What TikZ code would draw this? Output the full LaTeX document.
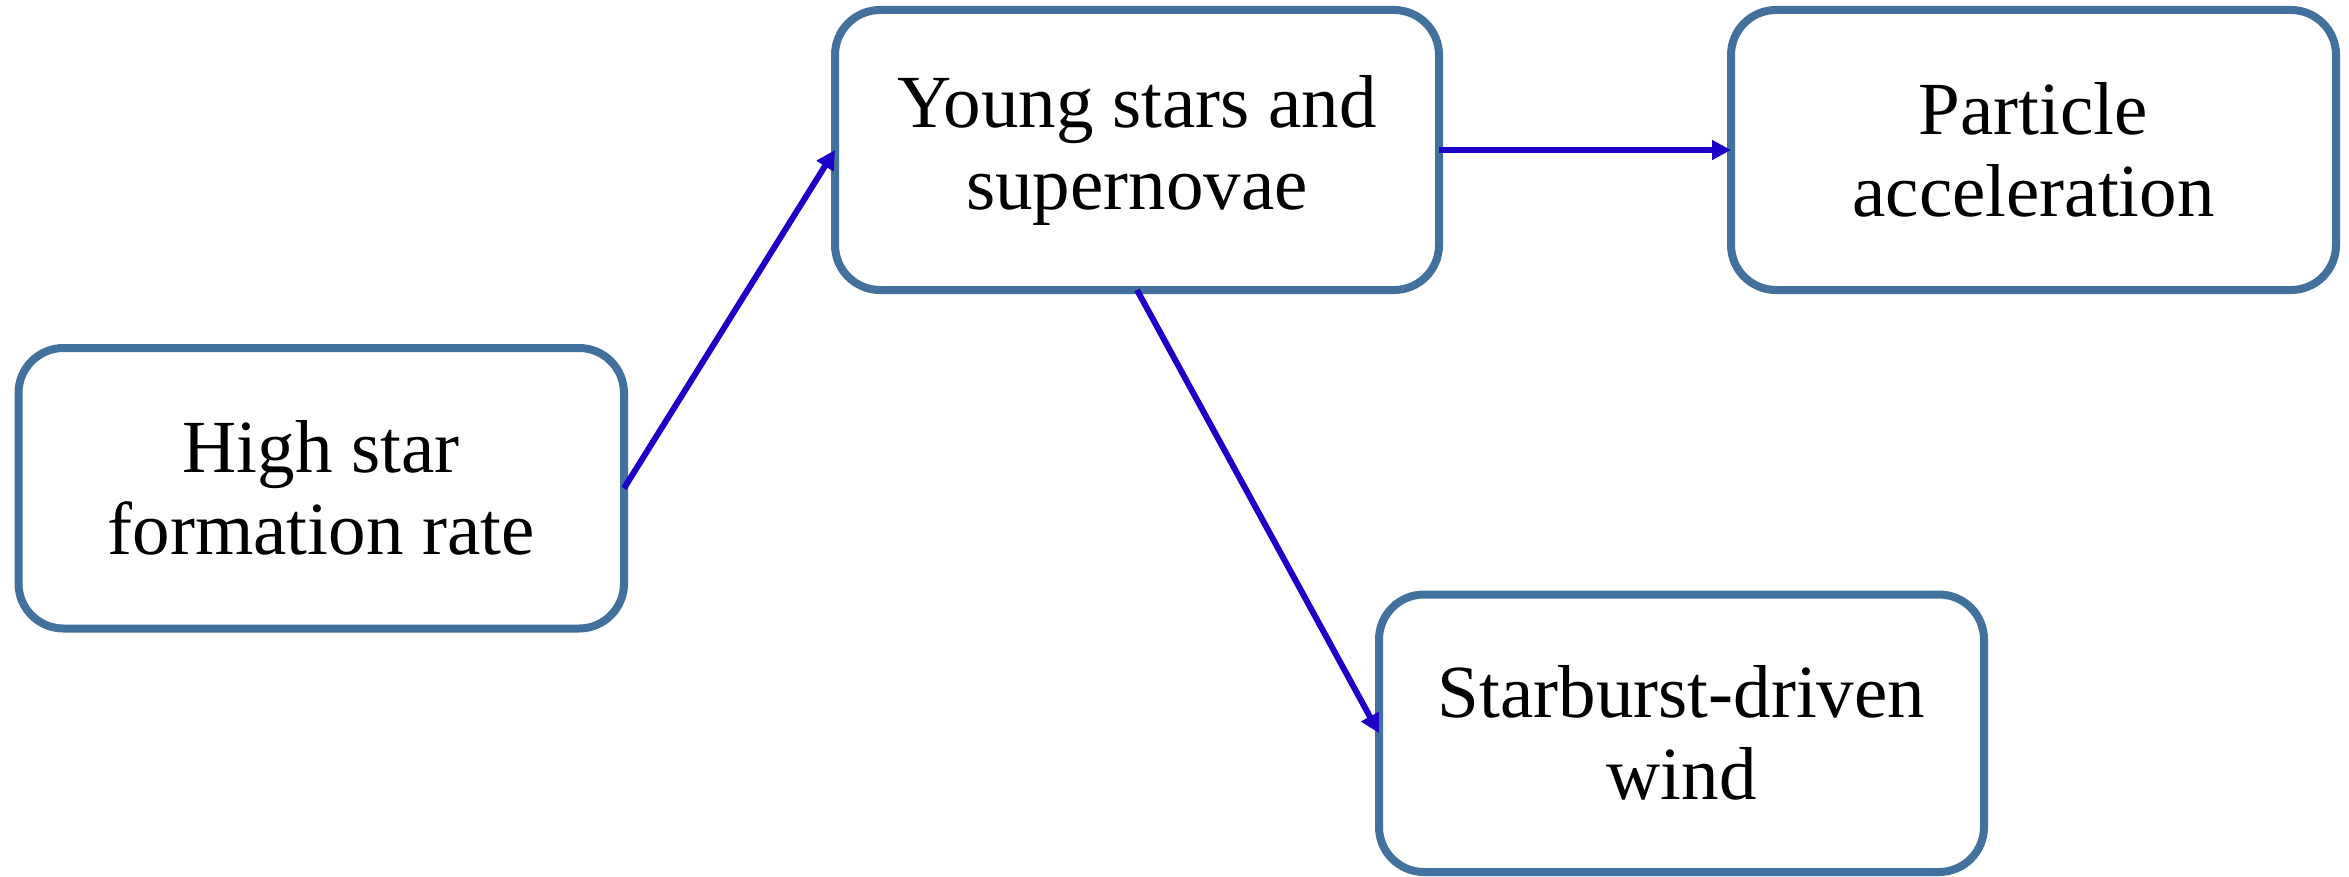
\documentclass[tikz,border=0pt]{standalone}
\usepackage{fontspec}
\setmainfont{Liberation Serif}
\usetikzlibrary{arrows.meta}
\definecolor{boxline}{RGB}{65,113,156}
\definecolor{arrowblue}{RGB}{28,0,200}
\tikzset{
  stagebox/.style={draw=boxline, line width=8pt, rounded corners=45pt,
    fill=white, inner sep=0pt, outer sep=0pt, align=center,
    font=\fontsize{75}{82}\selectfont},
  flow/.style={draw=arrowblue, line width=6pt,
    -{Triangle[length=19pt,width=19pt]}}
}
\begin{document}
\begin{tikzpicture}[x=1pt,y=-1pt]
\useasboundingbox (0,0) rectangle (2349,877);
\node[stagebox, minimum width=605.5pt, minimum height=280.5pt] (sfr)
  at (321.25,488.25) {High star\\formation rate};
\node[stagebox, minimum width=604pt, minimum height=280pt] (young)
  at (1137,150) {Young stars and\\supernovae};
\node[stagebox, minimum width=605pt, minimum height=280pt] (accel)
  at (2033.5,150) {Particle\\acceleration};
\node[stagebox, minimum width=605pt, minimum height=277.5pt] (wind)
  at (1681.5,733.25) {Starburst-driven\\wind};
\draw[flow] (sfr.east) -- (young.west);
\draw[flow] (young.east) -- (accel.west);
\draw[flow] (young.south) -- (wind.west);
\end{tikzpicture}
\end{document}
